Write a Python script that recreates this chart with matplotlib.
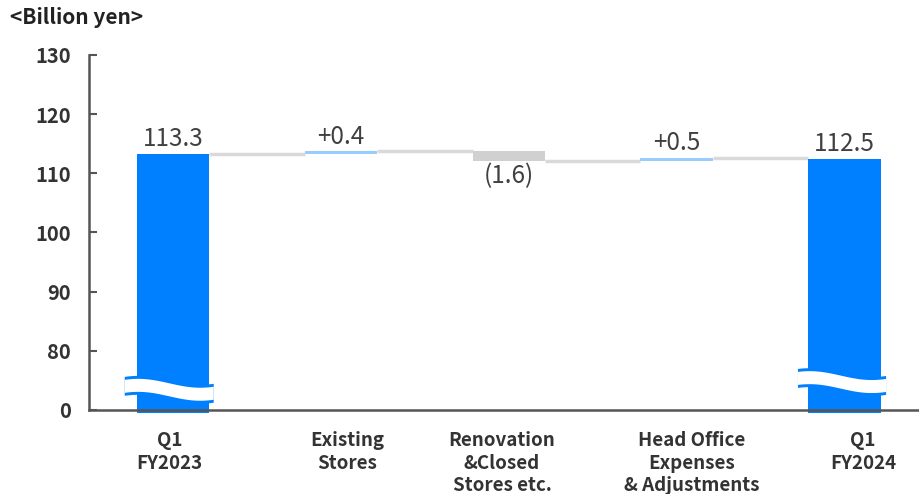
import matplotlib
matplotlib.use("Agg")
import matplotlib.pyplot as plt
import matplotlib.transforms as mtransforms
import numpy as np

plt.rcParams['font.family'] = ['Noto Sans CJK JP', 'DejaVu Sans']

# data
categories = ["Q1\nFY2023", "Existing\nStores", "Renovation\n&Closed\nStores etc.",
              "Head Office\nExpenses\n& Adjustments", "Q1\nFY2024"]
start_value = 113.3
deltas = [0.4, -1.6, 0.5]
end_value = 112.5
value_labels = ["113.3", "+0.4", "(1.6)", "+0.5", "112.5"]
tick_values = [0, 80, 90, 100, 110, 120, 130]

# broken axis: 0 is drawn where 70 would be
BREAK_BASE = 70
def disp(v):
    return v if v >= 80 else BREAK_BASE + v * 10 / 80

BLUE = "#0080ff"
LIGHT_BLUE = "#99ccff"
GRAY_BAR = "#d0d0d0"
LINE_GRAY = "#d9d9d9"
TEXT = "#333333"

fig = plt.figure(figsize=(9.2, 4.94), dpi=100)
ax = fig.add_axes([89/920, 1-410/494, 1-89/920, 355/494])

x = np.arange(len(categories))
w = 0.43

# bars (totals start at 0, steps float)
bottoms = [disp(0) - 0.5]
heights = [start_value - bottoms[0]]
colors = [BLUE]
levels = [start_value]
cum = start_value
for d in deltas:
    bottoms.append(min(cum, cum + d))
    heights.append(abs(d))
    colors.append(LIGHT_BLUE if d > 0 else GRAY_BAR)
    cum += d
    levels.append(cum)
bottoms.append(disp(0) - 0.5)
heights.append(end_value - bottoms[-1])
colors.append(BLUE)

ax.bar(x, heights, bottom=bottoms, width=w, color=colors, zorder=3, clip_on=False)

# connectors
for i in range(len(categories) - 1):
    ax.plot([x[i] + w/2, x[i+1] - w/2], [levels[i], levels[i]],
            color=LINE_GRAY, lw=2.5, zorder=2, solid_capstyle='butt')

# value labels
lab_kw = dict(ha='center', fontsize=17.5, color="#404040")
ax.text(x[0], start_value + 0.3, value_labels[0], va='bottom', **lab_kw)
c = start_value
for i, d in enumerate(deltas, start=1):
    if d > 0:
        ax.text(x[i], c + d + 0.3, value_labels[i], va='bottom', **lab_kw)
    else:
        ax.text(x[i], c + d - 0.3, value_labels[i], va='top', **lab_kw)
    c += d
ax.text(x[-1], end_value + 0.3, value_labels[-1], va='bottom', **lab_kw)

# break waves on the total bars
for xi, yc, lo, hi in [(x[0], 73.5, -0.29, 0.24), (x[-1], 74.8, -0.28, 0.245)]:
    off = np.linspace(lo, hi, 120)
    yw = yc + 0.75 * np.cos(2 * np.pi * (off + 0.21) / 0.74)
    ax.fill_between(xi + off, yw - 1.6, yw + 1.6, color=BLUE, lw=0, zorder=4)
    ax.fill_between(xi + off, yw - 1.1, yw + 1.1, color="white", lw=0, zorder=5)

ax.set_xlim(-0.5, 4.45)
ax.set_ylim(BREAK_BASE, 130)
ax.set_yticks([disp(t) for t in tick_values])
ax.set_yticklabels([str(t) for t in tick_values], fontsize=14.5, fontweight='bold', color=TEXT)
ax.tick_params(axis='y', direction='in', length=6, width=1.5, color="#555555", pad=13)

# category labels (slightly shifted like the original layout)
ax.set_xticks([])
label_shift = [-0.02, 0.04, -0.04, 0.09, 0.11]
trans = mtransforms.blended_transform_factory(ax.transData, ax.transAxes)
for xi, lab, sh in zip(x, categories, label_shift):
    ax.text(xi + sh, -0.06, lab, transform=trans, ha='center', va='top',
            fontsize=13.5, fontweight='bold', color=TEXT, linespacing=1.22)

for s in ['top', 'right']:
    ax.spines[s].set_visible(False)
for s in ['left', 'bottom']:
    ax.spines[s].set_color("#555555")
    ax.spines[s].set_linewidth(1.8)
ax.spines['bottom'].set_zorder(6)

fig.text(10/920, 1-18/494, "<Billion yen>", fontsize=15, fontweight='bold', color="#222222", va='center')

fig.savefig("out.png", dpi=100)
